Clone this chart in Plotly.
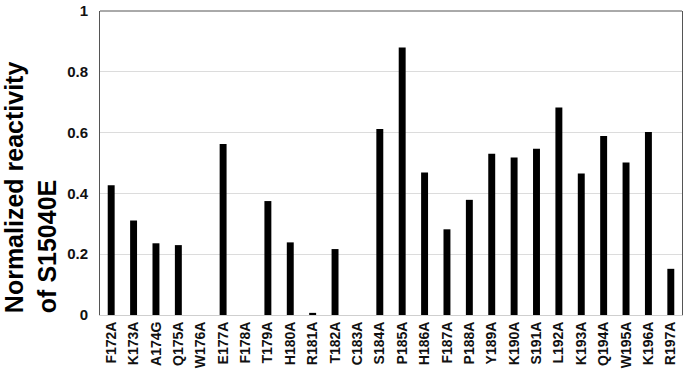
import plotly.graph_objects as go

mutants = ["F172A", "K173A", "A174G", "Q175A", "W176A", "E177A", "F178A", "T179A",
           "H180A", "R181A", "T182A", "C183A", "S184A", "P185A", "H186A", "F187A",
           "P188A", "Y189A", "K190A", "S191A", "L192A", "K193A", "Q194A", "W195A",
           "K196A", "R197A"]
reactivity = [0.427, 0.311, 0.236, 0.230, 0.0, 0.563, 0.0, 0.375,
              0.239, 0.007, 0.217, 0.0, 0.612, 0.880, 0.469, 0.282,
              0.379, 0.531, 0.518, 0.547, 0.683, 0.466, 0.589, 0.502,
              0.602, 0.152]
y_ticks = [0, 0.2, 0.4, 0.6, 0.8, 1]
y_ticklabels = ["0", "0.2", "0.4", "0.6", "0.8", "1"]
y_title = "Normalized reactivity<br>of S15040E"

fig = go.Figure(go.Bar(x=mutants, y=reactivity, marker_color="black",
                       marker_line_width=0))

font_family = "Liberation Sans, Arial, sans-serif"
fig.update_layout(
    width=685, height=376,
    margin=dict(l=100, r=2, t=6, b=61),
    plot_bgcolor="white", paper_bgcolor="white",
    bargap=0.69,
    showlegend=False,
    font=dict(family=font_family, color="black"),
)
fig.update_xaxes(
    tickangle=-90,
    tickfont=dict(size=14, family=font_family, color="#111", weight="bold"),
    showline=True, linecolor="#cfcfcf", linewidth=1,
    ticks="", showgrid=False,
)
fig.update_yaxes(
    range=[0, 1.0005],
    tickvals=y_ticks, ticktext=y_ticklabels,
    tickfont=dict(size=15, family=font_family, color="#111", weight="bold"),
    showgrid=True, gridcolor="#dcdcdc", gridwidth=1,
    showline=True, linecolor="#555", linewidth=1, mirror=True,
    ticks="", ticklen=0, zeroline=False,
    ticklabelstandoff=8, ticklabeloverflow="allow",
)
fig.add_shape(type="line", xref="paper", yref="paper", x0=0, x1=1, y0=1, y1=1,
              line=dict(color="#555", width=1))
fig.add_annotation(text=y_title, xref="paper", yref="paper",
                   x=-0.12, y=0, xanchor="center", yanchor="bottom",
                   textangle=-90, align="left", showarrow=False,
                   font=dict(size=25, family=font_family, color="black", weight="bold"))

fig.write_html("out.html")
